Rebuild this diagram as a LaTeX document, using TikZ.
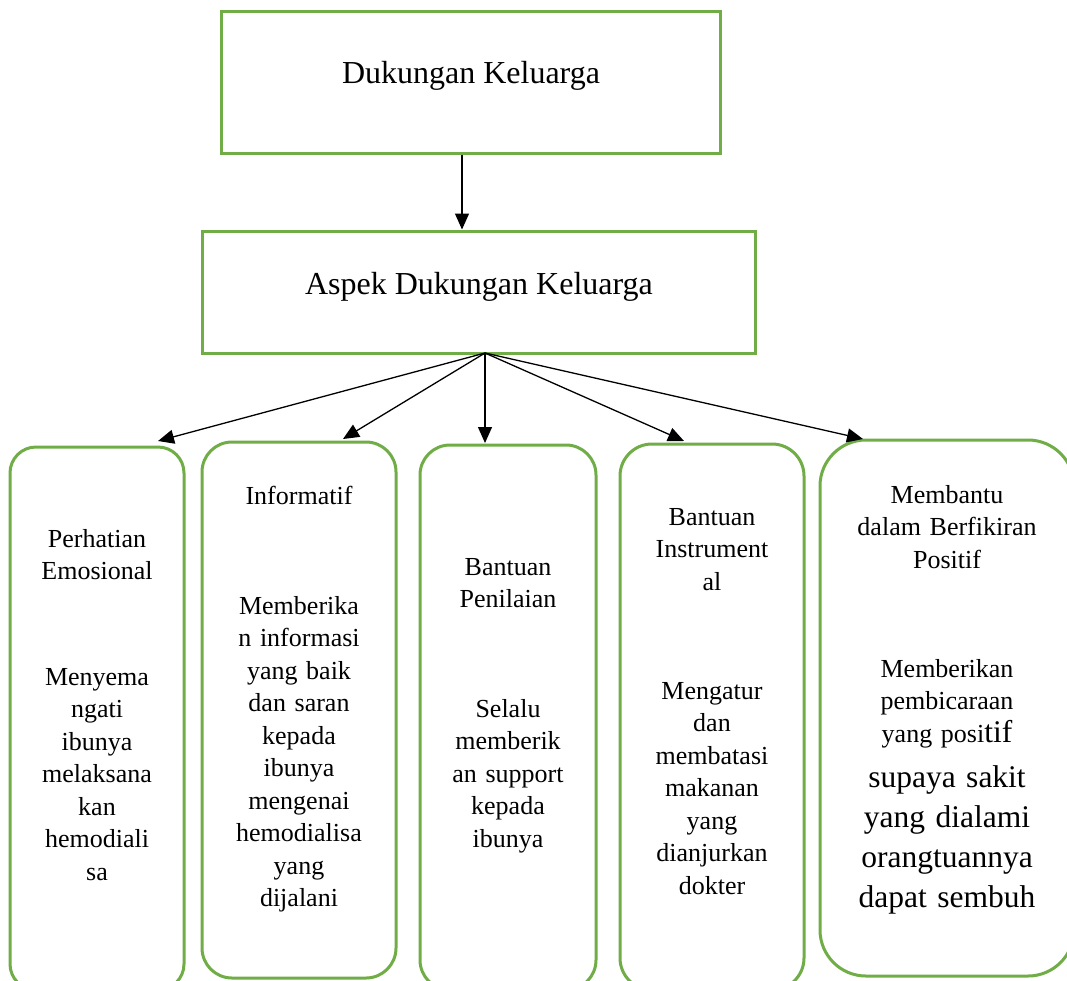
\documentclass[tikz,border=0pt]{standalone}
\usepackage{fontspec}
\setmainfont{Liberation Serif}
\usetikzlibrary{arrows.meta}
\definecolor{boxgreen}{HTML}{70AD47}
\begin{document}
\begin{tikzpicture}[x=1pt,y=-1pt,
  sqbox/.style={draw=boxgreen, line width=3pt, inner sep=0pt},
  rbox/.style={draw=boxgreen, line width=3pt, inner sep=0pt, rounded corners=#1},
  head/.style={inner sep=0pt, anchor=base, font=\fontsize{32}{38}\selectfont},
  txt/.style={text width=260pt, align=center, inner sep=0pt, anchor=base, font=\fontsize{26}{32.5}\selectfont},
  bigtxt/.style={text width=260pt, align=center, inner sep=0pt, anchor=base, font=\fontsize{31.5}{40}\selectfont},
  conn/.style={line width=1.3pt, -{Triangle[length=16pt,width=14pt]}}
]
\useasboundingbox (0,0) rectangle (1067,980);
\clip (0,0) rectangle (1067,980);
\fill[white] (0,0) rectangle (1067,980);

% top boxes
\node[sqbox, minimum width=499pt, minimum height=142pt] (dk) at (470.5,82) {};
\node[head] (dkt) at (471,83) {Dukungan Keluarga};
\node[sqbox, minimum width=553pt, minimum height=122pt] (asp) at (478.5,292) {};
\node[head] (aspt) at (479,294) {Aspek Dukungan Keluarga};

% bottom rounded boxes
\node[rbox=26pt, minimum width=174pt, minimum height=543pt] (pe) at (97,718.5) {};
\node[rbox=30pt, minimum width=194pt, minimum height=536pt] (inf) at (299,710) {};
\node[rbox=30pt, minimum width=176pt, minimum height=545pt] (bp) at (508,717.5) {};
\node[rbox=32pt, minimum width=184pt, minimum height=546pt] (bi) at (712,717) {};
\node[rbox=46pt, minimum width=254pt, minimum height=536pt] (mb) at (947,708) {};

% texts
\node[txt] (pe1) at (97,547) {Perhatian\\Emosional};
\node[txt] (pe2) at (97,685) {Menyema\\ngati\\ibunya\\melaksana\\kan\\hemodiali\\sa};
\node[txt] (inf1) at (299,504) {Informatif};
\node[txt] (inf2) at (299,614) {Memberika\\n informasi\\yang baik\\dan saran\\kepada\\ibunya\\mengenai\\hemodialisa\\yang\\dijalani};
\node[txt] (bp1) at (508,575) {Bantuan\\Penilaian};
\node[txt] (bp2) at (508,717) {Selalu\\memberik\\an support\\kepada\\ibunya};
\node[txt] (bi1) at (712,525) {Bantuan\\Instrument\\al};
\node[txt] (bi2) at (712,699) {Mengatur\\dan\\membatasi\\makanan\\yang\\dianjurkan\\dokter};
\node[txt] (mb1) at (947,503) {Membantu\\dalam Berfikiran\\Positif};
\node[txt] (mb2) at (947,677) {Memberikan\\pembicaraan\\yang posi{\fontsize{31.5}{40}\selectfont tif}};
\node[bigtxt] (mb3) at (947,787) {supaya sakit\\yang dialami\\orangtuannya\\dapat sembuh};

% connectors
\coordinate (hub) at (485,353);
\coordinate (tpe) at (158,441);
\coordinate (tinf) at (343,439);
\coordinate (tbp) at (485,443);
\coordinate (tbi) at (684,441);
\coordinate (tmb) at (863,439);
\draw[conn] (dk.south -| 462,0) -- (asp.north -| 462,0);
\draw[conn] (hub) -- (tpe);
\draw[conn] (hub) -- (tinf);
\draw[conn] (hub) -- (tbp);
\draw[conn] (hub) -- (tbi);
\draw[conn] (hub) -- (tmb);
\end{tikzpicture}
\end{document}
